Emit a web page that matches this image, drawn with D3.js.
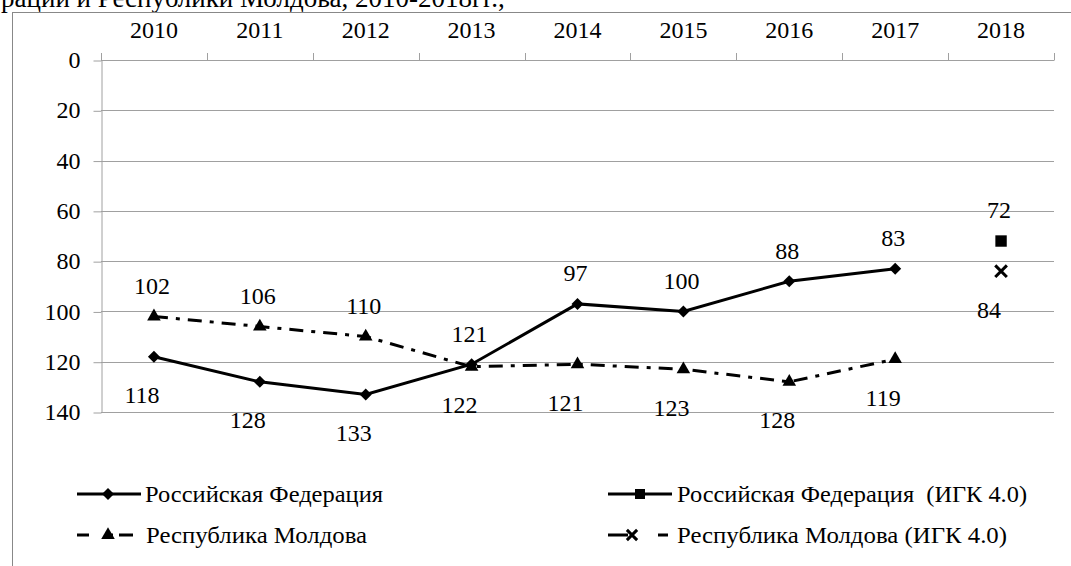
<!DOCTYPE html>
<html><head><meta charset="utf-8">
<script src="https://cdn.jsdelivr.net/npm/d3@7"></script>
<style>
html body svg text, html body svg g text, html body svg g g text { font-family: "Liberation Serif", "Times New Roman", serif !important; }
</style>
</head>
<body style="margin:0">
<script>
// ---- data ----
const years = ["2010","2011","2012","2013","2014","2015","2016","2017","2018"];
const yTicks = [0,20,40,60,80,100,120,140];
const rfYears = ["2010","2011","2012","2013","2014","2015","2016","2017"];
const rfValues = [118,128,133,121,97,100,88,83];
const mdValues = [102,106,110,122,121,123,128,119];
const rfIgkYears = ["2018"];
const rfIgkValues = [72];
const mdIgkYears = ["2018"];
const mdIgkValues = [84];
const seriesNames = ["Российская Федерация","Российская Федерация  (ИГК 4.0)","Республика Молдова","Республика Молдова (ИГК 4.0)"];
const caption = "рации и Республики Молдова, 2010-2018гг.,";

const W = 1071, H = 566;
const FONT = "Liberation Serif, serif";
const svg = d3.select("body").append("svg").attr("width",W).attr("height",H).style("display","block");
const gridCol = "#a0a0a0";
const fs = 24;

function T(sel){ return sel.style("font-family",FONT).attr("fill","#000"); }

// caption & frame
T(svg.append("text").attr("x",1).attr("y",7).attr("font-size",27)).text(caption);
svg.append("line").attr("x1",12).attr("x2",W).attr("y1",12.5).attr("y2",12.5).attr("stroke","#888").attr("stroke-width",1);
svg.append("line").attr("x1",12.5).attr("x2",12.5).attr("y1",12).attr("y2",H).attr("stroke","#888").attr("stroke-width",1);

const x = d3.scaleBand().domain(years).range([101,1054]);
const cx = d => x(d) + x.bandwidth()/2;
const y = d3.scaleLinear().domain([0,140]).range([60,412]);

// gridlines
svg.append("g").selectAll("line").data(yTicks).join("line")
  .attr("x1",101).attr("x2",1054)
  .attr("y1",d=>Math.round(y(d))+0.5).attr("y2",d=>Math.round(y(d))+0.5)
  .attr("stroke",gridCol).attr("stroke-width",1);

// left axis
const ga = svg.append("g").attr("transform","translate(101.5,0)")
  .call(d3.axisLeft(y).tickValues(yTicks).tickSize(8).tickSizeOuter(0).tickPadding(13).tickFormat(d3.format("d")));
ga.attr("font-family",FONT).attr("font-size",fs);
ga.select(".domain").attr("stroke",gridCol);
ga.selectAll(".tick line").attr("stroke",gridCol).attr("transform","translate(0,0.5)");
T(ga.selectAll("text")).attr("font-size",fs);

// top axis labels
const gt = svg.append("g").attr("transform","translate(0,60)")
  .call(d3.axisTop(x).tickSize(0).tickPadding(22));
gt.attr("font-family",FONT).attr("font-size",fs);
gt.select(".domain").remove();
T(gt.selectAll("text")).attr("font-size",fs);
// top axis boundary ticks
const bounds = years.map(d=>x(d)).concat([x.range()[1]]);
svg.append("g").selectAll("line").data(bounds).join("line")
  .attr("x1",d=>Math.round(d)+0.5).attr("x2",d=>Math.round(d)+0.5)
  .attr("y1",53).attr("y2",60.5).attr("stroke",gridCol);

// series
const rfData = rfYears.map((yr,i)=>({yr,v:rfValues[i]}));
const mdData = rfYears.map((yr,i)=>({yr,v:mdValues[i]}));
const line = d3.line().x(d=>cx(d.yr)).y(d=>y(d.v));
const dashMd = "14,8,4,8";

svg.append("path").datum(mdData).attr("d",line).attr("fill","none")
  .attr("stroke","#000").attr("stroke-width",3).attr("stroke-dasharray",dashMd);
svg.append("path").datum(rfData).attr("d",line).attr("fill","none")
  .attr("stroke","#000").attr("stroke-width",3);

const diamond = d3.symbol(d3.symbolSquare, 72);
const tri = d3.symbol(d3.symbolTriangle, 80);
const sq = d3.symbol(d3.symbolSquare, 130);
const cross = d3.symbol(d3.symbolX, 90);

svg.append("g").selectAll("path").data(mdData).join("path")
  .attr("d",tri).attr("transform",d=>`translate(${cx(d.yr)},${y(d.v)})`).attr("fill","#000");
svg.append("g").selectAll("path").data(rfData).join("path")
  .attr("d",diamond).attr("transform",d=>`translate(${cx(d.yr)},${y(d.v)}) rotate(45)`).attr("fill","#000");

const rfIgk = rfIgkYears.map((yr,i)=>({yr,v:rfIgkValues[i]}));
const mdIgk = mdIgkYears.map((yr,i)=>({yr,v:mdIgkValues[i]}));
svg.append("g").selectAll("path").data(rfIgk).join("path")
  .attr("d",sq).attr("transform",d=>`translate(${cx(d.yr)},${y(d.v)})`).attr("fill","#000");
svg.append("g").selectAll("path").data(mdIgk).join("path")
  .attr("d",cross).attr("transform",d=>`translate(${cx(d.yr)},${y(d.v)})`)
  .attr("fill","none").attr("stroke","#000").attr("stroke-width",3);

// data labels: the upper point at a year gets the label above, the lower one below
function labels(data, other){
  const om = new Map(other.map(d=>[d.yr,d.v]));
  const up = d => !(om.has(d.yr) && om.get(d.yr) < d.v);
  T(svg.append("g").selectAll("text").data(data).join("text")
    .attr("x",d=>cx(d.yr) + (up(d)?-2:-12))
    .attr("y",d=>y(d.v) + (up(d)?-31:38))
    .attr("dy","0.35em").attr("text-anchor","middle").attr("font-size",fs))
    .text(d=>d.v);
}
labels(rfData, mdData);
labels(mdData, rfData);
labels(rfIgk, mdIgk);
labels(mdIgk, rfIgk);

// legend
const lg = svg.append("g");
const r1 = 494, r2 = 535;
function legText(xp, yp, s, len){
  T(lg.append("text").attr("x",xp).attr("y",yp).attr("dy","0.35em").attr("font-size",fs)
    .attr("textLength",len).attr("lengthAdjust","spacingAndGlyphs")).style("white-space","pre").text(s);
}
// RF
lg.append("line").attr("x1",77).attr("x2",141).attr("y1",r1).attr("y2",r1).attr("stroke","#000").attr("stroke-width",3);
lg.append("path").attr("d",diamond).attr("transform",`translate(108,${r1}) rotate(45)`);
legText(145, r1, seriesNames[0], 238);
// Moldova
lg.append("line").attr("x1",77).attr("x2",141).attr("y1",r2).attr("y2",r2).attr("stroke","#000").attr("stroke-width",3).attr("stroke-dasharray","12,20,4,6,14,20");
lg.append("path").attr("d",tri).attr("transform",`translate(108,${r2})`);
legText(146, r2, seriesNames[2], 221);
// RF IGK
lg.append("line").attr("x1",608).attr("x2",672).attr("y1",r1).attr("y2",r1).attr("stroke","#000").attr("stroke-width",3);
lg.append("path").attr("d",d3.symbol(d3.symbolSquare,100)).attr("transform",`translate(640,${r1})`);
legText(677, r1, seriesNames[1], 350);
// MD IGK
lg.append("line").attr("x1",608).attr("x2",672).attr("y1",r2).attr("y2",r2).attr("stroke","#000").attr("stroke-width",3).attr("stroke-dasharray","20,30,10,10");
lg.append("path").attr("d",d3.symbol(d3.symbolX,70)).attr("transform",`translate(632,${r2})`).attr("fill","none").attr("stroke","#000").attr("stroke-width",3);
legText(677, r2, seriesNames[3], 330);
</script>
</body></html>
